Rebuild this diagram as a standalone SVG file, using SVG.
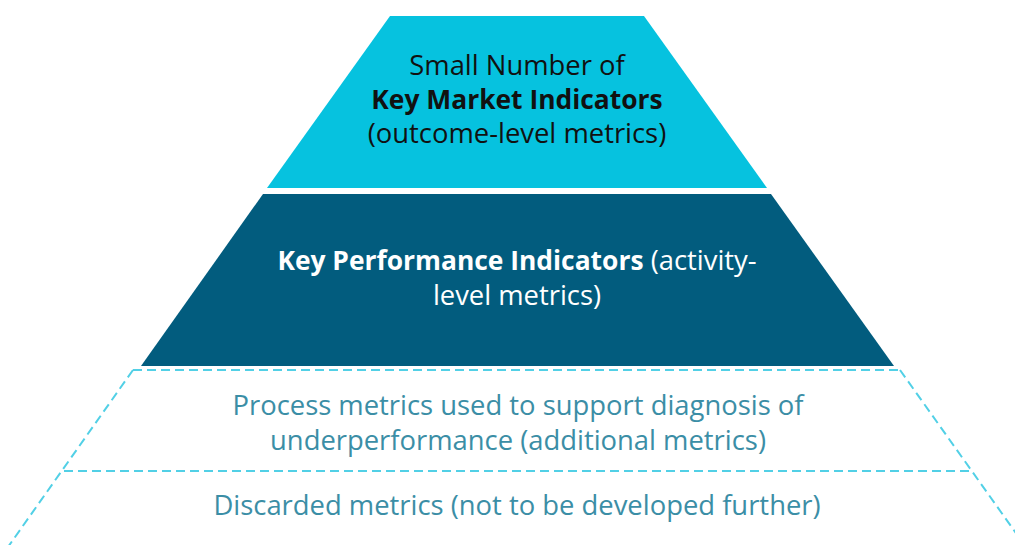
<svg xmlns="http://www.w3.org/2000/svg" width="1015" height="545" viewBox="0 0 1015 545">
  <style>
    .t { font-family: "Open Sans", Lato, "Liberation Sans", sans-serif; font-size: 27.4px; text-anchor: middle; }
    .b { font-weight: bold; font-size: 26.4px; }
    .top { fill: #111111; }
    .mid { fill: #ffffff; }
    .low { fill: #3b8ea6; }
    .dash { stroke: #52d0e6; stroke-width: 2; stroke-dasharray: 9 5; fill: none; }
  </style>
  <rect width="1015" height="545" fill="#ffffff"/>

  <g id="connectors">
    <line class="dash" x1="133" y1="370" x2="900" y2="370"/>
    <line class="dash" x1="64" y1="471" x2="972" y2="471"/>
    <line class="dash" x1="133" y1="370" x2="8" y2="547"/>
    <line class="dash" x1="900" y1="370" x2="1018" y2="536"/>
  </g>

  <g id="key-market-indicators">
    <polygon points="390,16 644,16 767,188 267,188" fill="#06c2df"/>
    <text class="t top" x="517" y="75">Small Number of</text>
    <text class="t top b" x="517" y="109">Key Market Indicators</text>
    <text class="t top" x="517" y="143">(outcome-level metrics)</text>
  </g>

  <g id="key-performance-indicators">
    <polygon points="263,194 771,194 894,366 141,366" fill="#025c7e"/>
    <text class="t mid" x="517" y="270"><tspan class="b">Key Performance Indicators</tspan> (activity-</text>
    <text class="t mid" x="517" y="305">level metrics)</text>
  </g>

  <g id="process-metrics">
    <text class="t low" x="518" y="415">Process metrics used to support diagnosis of</text>
    <text class="t low" x="518" y="450">underperformance (additional metrics)</text>
  </g>

  <g id="discarded-metrics">
    <text class="t low" x="517" y="515">Discarded metrics (not to be developed further)</text>
  </g>
</svg>
